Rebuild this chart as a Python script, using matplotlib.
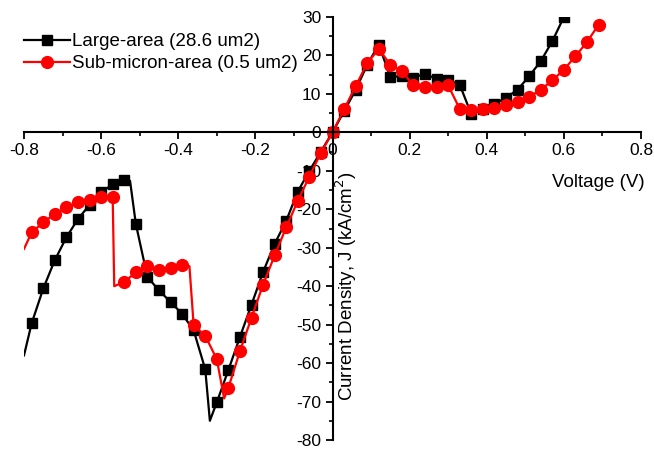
import numpy as np
import matplotlib
matplotlib.use("Agg")
import matplotlib.pyplot as plt
from matplotlib.ticker import MultipleLocator, FuncFormatter

plt.rcParams["font.family"] = ["Liberation Sans", "DejaVu Sans"]
plt.rcParams["axes.unicode_minus"] = False

# Large-area device (points at multiples of 0.03 V carry markers, others only shape the line)
large_v = [-0.80, -0.78, -0.75, -0.72, -0.69, -0.66, -0.63, -0.60, -0.57, -0.54, -0.525,
           -0.51, -0.48, -0.45, -0.42, -0.39, -0.36, -0.33, -0.318, -0.30, -0.27, -0.24,
           -0.21, -0.18, -0.15, -0.12, -0.09, -0.06, -0.03, 0.00, 0.03, 0.06, 0.09, 0.12,
           0.15, 0.18, 0.21, 0.24, 0.27, 0.30, 0.33, 0.36, 0.39, 0.42, 0.45, 0.48, 0.51,
           0.54, 0.57, 0.60]
large_j = [-58.0, -49.6, -40.6, -33.2, -27.3, -22.5, -18.9, -15.6, -13.5, -12.4, -12.6,
           -23.8, -37.6, -41.1, -44.1, -47.2, -51.5, -61.6, -75.0, -70.2, -61.8, -53.2,
           -44.8, -36.3, -29.0, -23.0, -15.4, -10.0, -5.0, 0.0, 5.5, 11.0, 17.6, 22.8,
           14.4, 14.6, 14.2, 15.3, 13.8, 13.6, 12.4, 4.7, 6.0, 7.4, 9.0, 11.1, 14.6,
           18.5, 23.7, 30.0]

# Sub-micron-area device
small_v = [-0.80, -0.78, -0.75, -0.72, -0.69, -0.66, -0.63, -0.60, -0.57, -0.566, -0.54,
           -0.51, -0.48, -0.45, -0.42, -0.39, -0.371, -0.36, -0.33, -0.30, -0.281, -0.27,
           -0.24, -0.21, -0.18, -0.15, -0.12, -0.09, -0.06, -0.03, 0.00, 0.03, 0.06, 0.09,
           0.12, 0.15, 0.18, 0.21, 0.24, 0.27, 0.30, 0.33, 0.36, 0.39, 0.42, 0.45, 0.48,
           0.51, 0.54, 0.57, 0.60, 0.63, 0.66, 0.69]
small_j = [-30.3, -26.0, -23.4, -21.2, -19.5, -18.2, -17.5, -16.9, -16.9, -40.0, -38.9,
           -36.4, -34.7, -35.9, -35.3, -34.6, -34.8, -50.2, -52.9, -59.0, -69.2, -66.4,
           -56.9, -48.2, -39.6, -32.0, -24.7, -17.8, -11.5, -5.3, 0.0, 6.0, 12.0, 18.0,
           21.7, 17.6, 15.9, 12.2, 11.8, 11.8, 12.2, 6.1, 5.8, 6.0, 6.4, 7.0, 7.9,
           9.2, 11.1, 13.5, 16.3, 19.8, 23.5, 28.0]

labels = ["Large-area (28.6 um2)", "Sub-micron-area (0.5 um2)"]


def marker_mask(v):
    k = np.array(v) / 0.03
    return list(np.isclose(k, np.round(k), atol=1e-6))


fig = plt.figure(figsize=(6.54, 4.49), dpi=100)
ax = fig.add_axes([24 / 654, 9 / 449, 617 / 654, 423 / 449])

ax.plot(large_v, large_j, color="black", lw=1.6, marker="s", ms=7.5,
        markevery=marker_mask(large_v), label=labels[0])
ax.plot(small_v, small_j, color="red", lw=1.6, marker="o", ms=8.5,
        markevery=marker_mask(small_v), label=labels[1])

ax.set_xlim(-0.8, 0.8)
ax.set_ylim(-80, 30)

# axes crossing at the origin
ax.spines["left"].set_position(("data", 0))
ax.spines["bottom"].set_position(("data", 0))
ax.spines["right"].set_visible(False)
ax.spines["top"].set_visible(False)
for s in ["left", "bottom"]:
    ax.spines[s].set_linewidth(1.5)

ax.xaxis.set_major_locator(MultipleLocator(0.2))
ax.xaxis.set_minor_locator(MultipleLocator(0.1))
ax.yaxis.set_major_locator(MultipleLocator(10))
ax.yaxis.set_minor_locator(MultipleLocator(5))
fmt = FuncFormatter(lambda val, pos: "{:g}".format(round(val, 2)))
ax.xaxis.set_major_formatter(fmt)
ax.yaxis.set_major_formatter(fmt)
ax.tick_params(which="major", direction="out", length=5, width=1.3, labelsize=12.5, pad=3)
ax.tick_params(which="minor", direction="out", length=3, width=1.2)

ax.text(0.81, -13, "Voltage (V)", ha="right", va="center", fontsize=13.5)
ax.text(0.036, -40, "Current Density, J (kA/cm$^2$)", rotation=90,
        ha="center", va="center", fontsize=13.5)

ax.legend(loc="upper left", bbox_to_anchor=(24 / 654, 1 - 33 / 449),
          bbox_transform=fig.transFigure, frameon=False, fontsize=13.5,
          borderpad=0, borderaxespad=0, handlelength=2.45, handletextpad=0.1,
          labelspacing=0.28)

fig.savefig("out.png", dpi=100)
